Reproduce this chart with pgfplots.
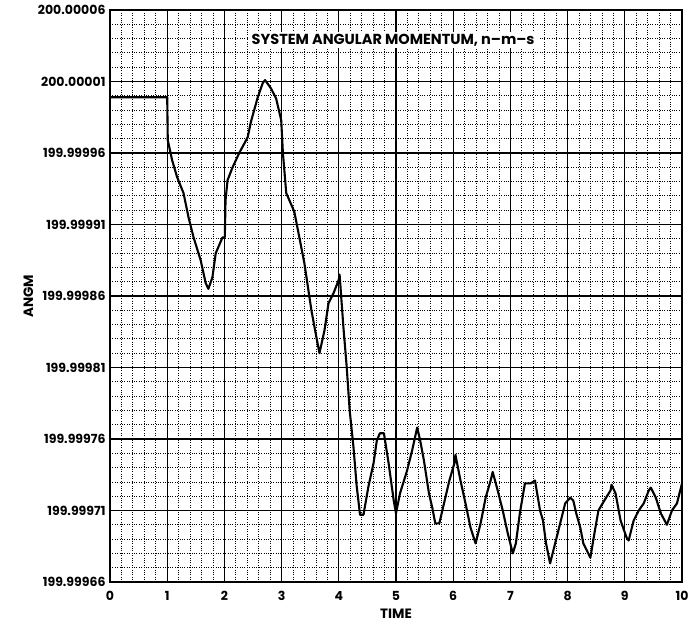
\documentclass[border=0pt]{standalone}
\usepackage{fontspec}
\setmainfont{Poppins}
\usepackage{pgfplots}
\pgfplotsset{compat=1.18}
\begin{document}
\begin{tikzpicture}
\useasboundingbox (-110pt,-49pt) rectangle (582pt,582pt);
\begin{axis}[
  at={(0pt,0pt)}, anchor=south west,
  scale only axis, width=572pt, height=572pt,
  xmin=0, xmax=10, ymin=0, ymax=40,
  xtick={0,1,2,3,4,5,6,7,8,9,10},
  xticklabels={0,1,2,3,4,5,6,7,8,9,10},
  ytick={0,5,10,15,20,25,30,35,40},
  yticklabels={199.99966,199.99971,199.99976,199.99981,199.99986,199.99991,199.99996,200.00001,200.00006},
  minor x tick num=4, minor y tick num=4,
  grid=both,
  major grid style={black, line width=1.1pt},
  minor grid style={black, dotted, line width=0.8pt},
  major tick length=0pt, minor tick length=0pt,
  axis line style={black, line width=1.5pt},
  tick label style={font=\bfseries\fontsize{12.5}{13}\selectfont},
  yticklabel style={xshift=-1pt},
  xticklabel style={yshift=-6pt},
  xlabel={TIME}, ylabel={ANGM},
  label style={font=\bfseries\fontsize{13.5}{14}\selectfont},
  xlabel style={yshift=-1pt},
  ylabel style={yshift=-2pt},
  clip=true,
]
\addplot[black, line width=2.1pt, line join=round] coordinates {
(0,33.9) (1.0,33.9) (1.01,30.9) (1.086,29.5) (1.174,28.3) (1.285,27.2)
(1.373,25.5) (1.461,24.1) (1.585,22.5) (1.673,20.9) (1.72,20.5) (1.79,21.3)
(1.849,23.0) (1.967,24.1) (2.007,24.1) (2.02,26.7) (2.055,28.1) (2.143,29.0)
(2.259,30.0) (2.407,31.1) (2.465,32.2) (2.583,33.9) (2.671,34.9) (2.711,35.1)
(2.817,34.5) (2.905,33.8) (2.993,32.3) (3.023,30.0) (3.081,27.2) (3.222,25.9)
(3.31,24.1) (3.398,22.3) (3.521,19.0) (3.609,17.1) (3.662,16.0) (3.75,17.6)
(3.82,19.5) (3.908,20.2) (3.996,21.1) (4.014,21.5) (4.079,17.9) (4.137,15.1)
(4.19,12.0) (4.255,9.5) (4.313,6.7) (4.371,4.7) (4.431,4.7) (4.519,6.7)
(4.607,8.3) (4.665,9.9) (4.718,10.4) (4.789,10.4) (4.871,8.3) (4.96,5.7)
(5.0,4.8) (5.07,6.2) (5.194,7.8) (5.282,9.2) (5.37,10.8) (5.423,9.9)
(5.488,8.5) (5.576,6.2) (5.634,5.2) (5.687,4.1) (5.757,4.1) (5.81,5.0)
(5.933,7.1) (6.021,8.3) (6.039,8.9) (6.127,7.1) (6.215,5.5) (6.303,3.8)
(6.391,2.7) (6.479,4.1) (6.567,5.9) (6.655,7.1) (6.69,7.7) (6.778,6.4)
(6.866,5.0) (6.954,3.4) (7.042,2.0) (7.095,2.7) (7.165,4.8) (7.254,6.9)
(7.359,6.9) (7.43,7.1) (7.518,5.0) (7.57,4.3) (7.623,2.7) (7.694,1.3)
(7.782,2.7) (7.87,4.1) (7.958,5.5) (8.046,5.9) (8.099,5.7) (8.151,4.8)
(8.222,3.8) (8.275,2.7) (8.398,1.7) (8.486,3.8) (8.539,5.0) (8.627,5.6)
(8.75,6.4) (8.768,6.8) (8.838,6.2) (8.926,4.3) (9.032,3.1) (9.067,2.9)
(9.155,4.3) (9.243,5.0) (9.331,5.5) (9.419,6.4) (9.454,6.6) (9.542,5.9)
(9.63,4.8) (9.736,4.0) (9.824,5.0) (9.912,5.5) (10.0,6.9)
};
\node[fill=white, inner xsep=3pt, inner ysep=2pt, font=\bfseries\fontsize{14.5}{15}\selectfont] at (axis cs:4.95,37.9) {SYSTEM ANGULAR MOMENTUM, n--m--s};
\end{axis}
\end{tikzpicture}
\end{document}
